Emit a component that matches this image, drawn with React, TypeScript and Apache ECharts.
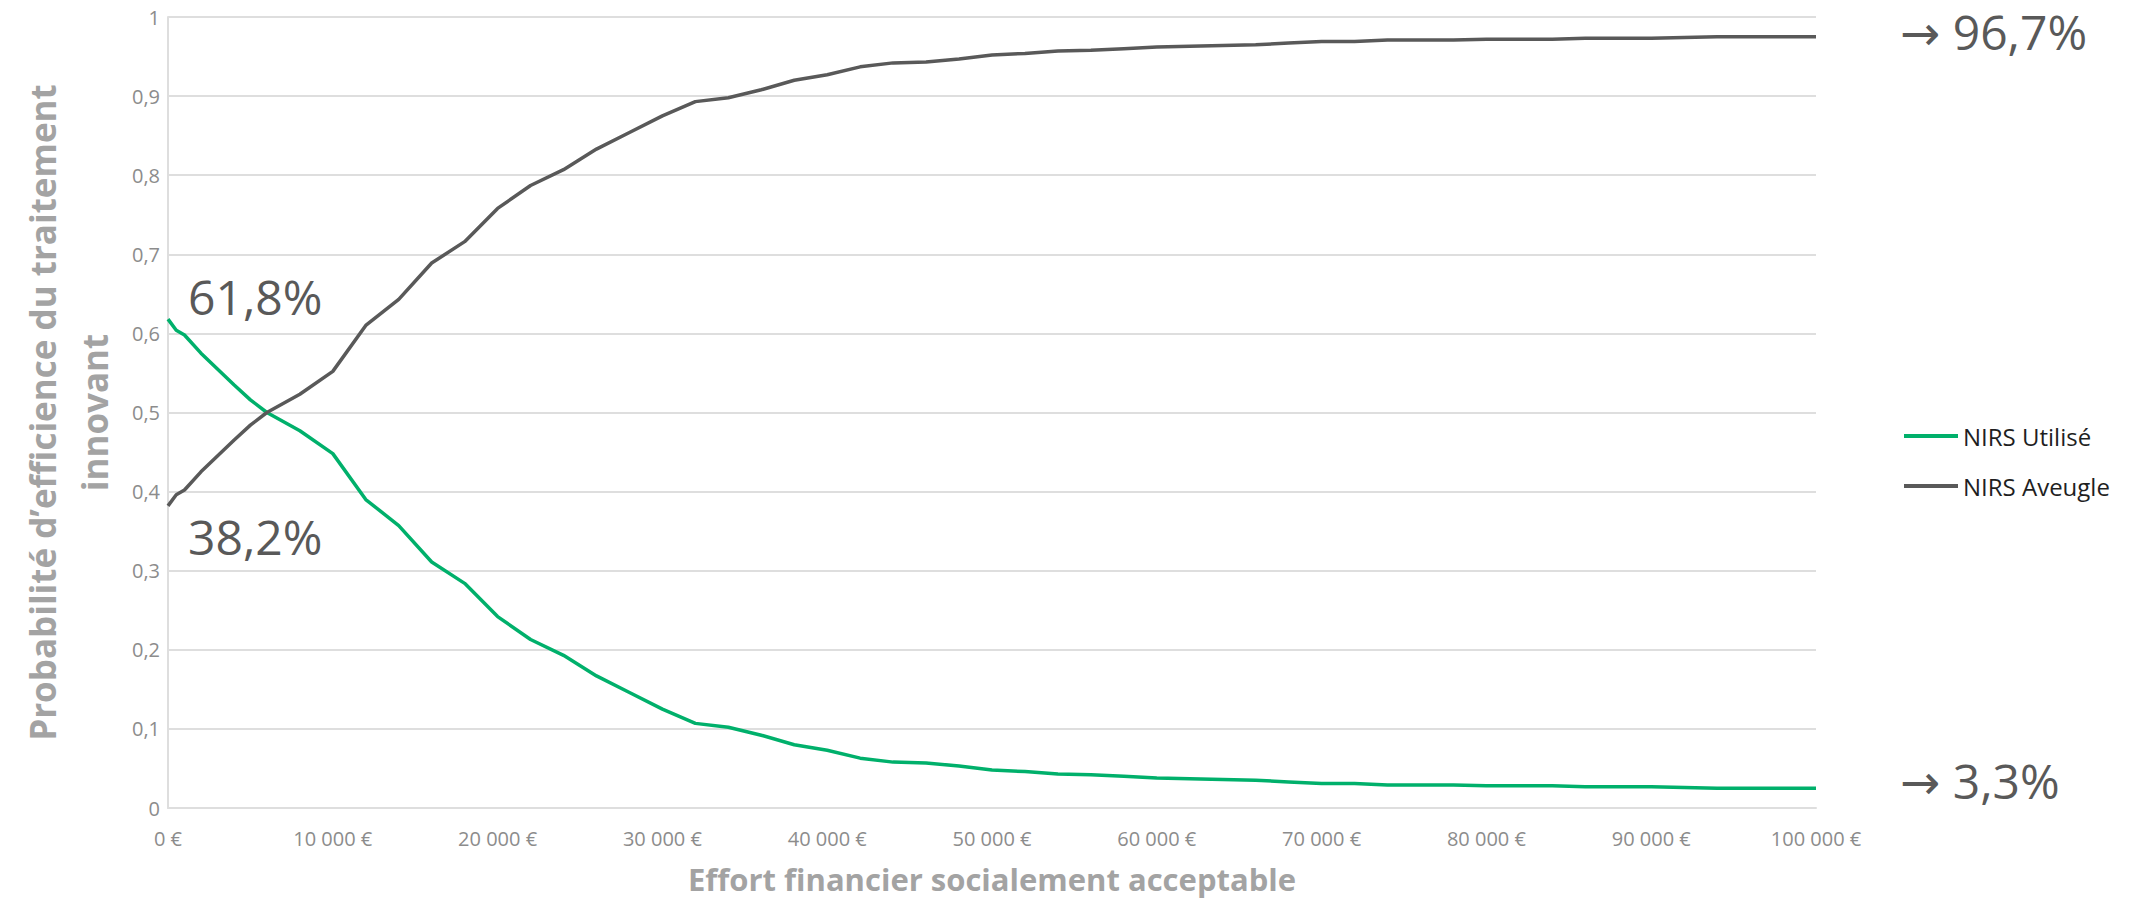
import React, { useEffect, useRef } from "react";
import * as echarts from "echarts";

const xValues = [
  0, 500, 1000, 2000, 3000, 4000, 5000, 6000, 8000, 10000, 12000, 14000, 16000, 18000, 20000,
  22000, 24000, 26000, 28000, 30000, 32000, 34000, 36000, 38000, 40000, 42000, 44000, 46000,
  48000, 50000, 52000, 54000, 56000, 58000, 60000, 62000, 64000, 66000, 68000, 70000, 72000,
  74000, 76000, 78000, 80000, 82000, 84000, 86000, 88000, 90000, 92000, 94000, 96000, 98000,
  100000,
];

const nirsUtilise = [
  0.618, 0.604, 0.598, 0.575, 0.555, 0.535, 0.516, 0.5, 0.477, 0.448, 0.39, 0.357, 0.311, 0.284,
  0.242, 0.213, 0.193, 0.167, 0.146, 0.125, 0.107, 0.102, 0.092, 0.08, 0.073, 0.063, 0.058, 0.057,
  0.053, 0.048, 0.046, 0.043, 0.042, 0.04, 0.038, 0.037, 0.036, 0.035, 0.033, 0.031, 0.031, 0.029,
  0.029, 0.029, 0.028, 0.028, 0.028, 0.027, 0.027, 0.027, 0.026, 0.025, 0.025, 0.025, 0.025,
];

const nirsAveugle = [
  0.382, 0.396, 0.402, 0.425, 0.445, 0.465, 0.484, 0.5, 0.523, 0.552, 0.61, 0.643, 0.689, 0.716,
  0.758, 0.787, 0.807, 0.833, 0.854, 0.875, 0.893, 0.898, 0.908, 0.92, 0.927, 0.937, 0.942, 0.943,
  0.947, 0.952, 0.954, 0.957, 0.958, 0.96, 0.962, 0.963, 0.964, 0.965, 0.967, 0.969, 0.969, 0.971,
  0.971, 0.971, 0.972, 0.972, 0.972, 0.973, 0.973, 0.973, 0.974, 0.975, 0.975, 0.975, 0.975,
];

const seriesNames = ["NIRS Utilisé", "NIRS Aveugle"];
const annotations = ["61,8%", "38,2%", "→ 96,7%", "→ 3,3%"];
const xTitle = "Effort financier socialement acceptable";
const yTitle = "Probabilité d’efficience du traitement\ninnovant";

const GREEN = "#00b06b";
const GRAY = "#595959";
const TITLE_GRAY = "#a3a3a3";
const TICK_GRAY = "#8c8c8c";
const GRID = "#dedede";

export default function App() {
  const ref = useRef<HTMLDivElement>(null);

  useEffect(() => {
    if (!ref.current) return;
    const chart = echarts.init(ref.current, undefined, { renderer: "svg" });
    const fmtX = (v: number) =>
      String(v).replace(/\B(?=(\d{3})+(?!\d))/g, " ") + " €";
    const fmtY = (v: number) => String(Math.round(v * 10) / 10).replace(".", ",");

    chart.setOption({
      animation: false,
      backgroundColor: "#ffffff",
      grid: {
        left: 168,
        right: 327,
        top: 17,
        bottom: 95,
        containLabel: false,
        outerBoundsMode: "none",
      },
      legend: {
        orient: "vertical",
        left: 1904,
        top: 424,
        padding: 0,
        itemWidth: 54,
        itemHeight: 4,
        itemGap: 26,
        icon: "rect",
        textStyle: {
          fontFamily: "Open Sans",
          fontSize: 24,
          color: "#1f1f1f",
          lineHeight: 24,
          padding: [0, 0, 0, 0],
        },
        data: seriesNames,
      },
      xAxis: {
        type: "value",
        min: 0,
        max: 100000,
        interval: 10000,
        name: xTitle,
        nameLocation: "middle",
        nameGap: 55,
        nameTextStyle: {
          fontFamily: "Open Sans",
          fontWeight: "bold",
          fontSize: 31,
          color: TITLE_GRAY,
          lineHeight: 32,
        },
        axisLine: { show: true, lineStyle: { color: GRID, width: 2 } },
        axisTick: { show: false },
        splitLine: { show: false },
        axisLabel: {
          formatter: fmtX,
          fontFamily: "Open Sans",
          fontSize: 20,
          color: TICK_GRAY,
          margin: 20,
        },
      },
      yAxis: {
        type: "value",
        min: 0,
        max: 1,
        interval: 0.1,
        name: yTitle,
        nameLocation: "middle",
        nameRotate: 90,
        nameGap: 48,
        nameTextStyle: {
          fontFamily: "Open Sans",
          fontWeight: "bold",
          fontSize: 35,
          color: TITLE_GRAY,
          lineHeight: 52,
          align: "center",
        },
        axisLine: { show: true, lineStyle: { color: GRID, width: 2 } },
        axisTick: { show: false },
        splitLine: { show: true, lineStyle: { color: GRID, width: 2 } },
        axisLabel: {
          formatter: fmtY,
          fontFamily: "Open Sans",
          fontSize: 20,
          color: TICK_GRAY,
          margin: 8,
        },
      },
      series: [
        {
          name: seriesNames[0],
          type: "line",
          data: xValues.map((x, i) => [x, nirsUtilise[i]]),
          showSymbol: false,
          symbol: "none",
          lineStyle: { color: GREEN, width: 3.5 },
          itemStyle: { color: GREEN },
        },
        {
          name: seriesNames[1],
          type: "line",
          data: xValues.map((x, i) => [x, nirsAveugle[i]]),
          showSymbol: false,
          symbol: "none",
          lineStyle: { color: GRAY, width: 3.5 },
          itemStyle: { color: GRAY },
        },
      ],
      graphic: [
        {
          type: "text",
          x: 188,
          y: 296,
          style: {
            text: annotations[0],
            font: 'normal 48px "Open Sans"',
            fill: GRAY,
            align: "left",
            verticalAlign: "middle",
          },
        },
        {
          type: "text",
          x: 188,
          y: 536,
          style: {
            text: annotations[1],
            font: 'normal 48px "Open Sans"',
            fill: GRAY,
            align: "left",
            verticalAlign: "middle",
          },
        },
        {
          type: "text",
          x: 1900,
          y: 31,
          style: {
            text: annotations[2],
            font: 'normal 48px "Open Sans", "Noto Sans", "DejaVu Sans"',
            fill: GRAY,
            align: "left",
            verticalAlign: "middle",
          },
        },
        {
          type: "text",
          x: 1900,
          y: 780,
          style: {
            text: annotations[3],
            font: 'normal 48px "Open Sans", "Noto Sans", "DejaVu Sans"',
            fill: GRAY,
            align: "left",
            verticalAlign: "middle",
          },
        },
      ],
    });
    return () => chart.dispose();
  }, []);

  return (
    <div
      ref={ref}
      style={{ position: "absolute", left: 0, top: 0, width: 2143, height: 903 }}
    />
  );
}
